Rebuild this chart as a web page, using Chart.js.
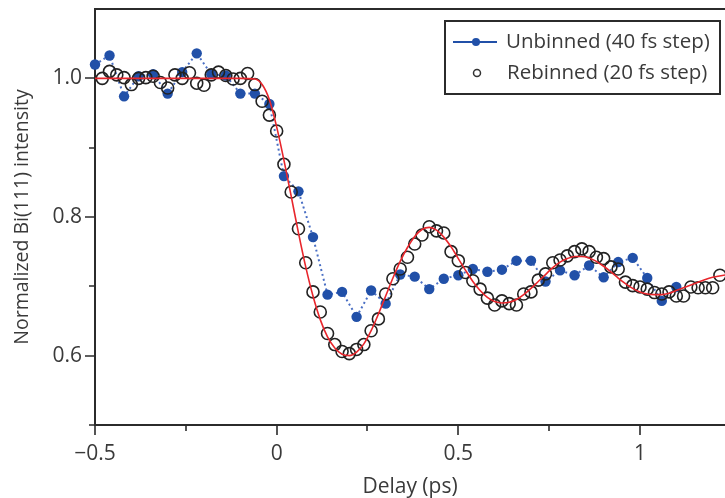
<!DOCTYPE html>
<html>
<head>
<meta charset="utf-8">
<script src="https://cdn.jsdelivr.net/npm/chart.js@4.4.1/dist/chart.umd.min.js"></script>
<style>
  html, body { margin: 0; padding: 0; background: #fff; }
</style>
</head>
<body>
<canvas id="myChart" width="725" height="498"></canvas>
<script>
// Unbinned data, 40 fs step
const unbinnedDelay = [-0.50, -0.46, -0.42, -0.38, -0.34, -0.30, -0.26, -0.22, -0.18, -0.14, -0.10, -0.06, -0.02,
  0.02, 0.06, 0.10, 0.14, 0.18, 0.22, 0.26, 0.30, 0.34, 0.38, 0.42, 0.46, 0.50, 0.54, 0.58, 0.62, 0.66,
  0.70, 0.74, 0.78, 0.82, 0.86, 0.90, 0.94, 0.98, 1.02, 1.06, 1.10]
const unbinnedIntensity = [1.020, 1.033, 0.974, 1.003, 1.006, 0.978, 1.009, 1.036, 1.006, 1.004, 0.978, 0.978, 0.963,
  0.859, 0.837, 0.771, 0.688, 0.692, 0.656, 0.694, 0.675, 0.717, 0.714, 0.696, 0.711, 0.716, 0.725, 0.721, 0.724, 0.737,
  0.737, 0.707, 0.723, 0.716, 0.730, 0.713, 0.735, 0.741, 0.712, 0.679, 0.699]

// Rebinned data, 20 fs step
const rebinnedDelay = [-0.48, -0.46, -0.44, -0.42, -0.40, -0.38, -0.36, -0.34, -0.32, -0.30, -0.28, -0.26, -0.24,
  -0.22, -0.20, -0.18, -0.16, -0.14, -0.12, -0.10, -0.08, -0.06, -0.04, -0.02, 0.00, 0.02, 0.04, 0.06, 0.08,
  0.10, 0.12, 0.14, 0.16, 0.18, 0.20, 0.22, 0.24, 0.26, 0.28, 0.30, 0.32, 0.34, 0.36, 0.38, 0.40, 0.42, 0.44,
  0.46, 0.48, 0.50, 0.52, 0.54, 0.56, 0.58, 0.60, 0.62, 0.64, 0.66, 0.68, 0.70, 0.72, 0.74, 0.76, 0.78, 0.80,
  0.82, 0.84, 0.86, 0.88, 0.90, 0.92, 0.94, 0.96, 0.98, 1.00, 1.02, 1.04, 1.06, 1.08, 1.10, 1.12, 1.14, 1.16,
  1.18, 1.20, 1.22]
const rebinnedIntensity = [1.000, 1.010, 1.005, 1.001, 0.991, 1.000, 1.001, 1.003, 0.994, 0.986, 1.005, 1.000, 1.008,
  0.993, 0.990, 1.005, 1.009, 1.004, 0.999, 1.000, 1.007, 0.991, 0.967, 0.947, 0.924, 0.876, 0.836, 0.783, 0.734,
  0.692, 0.663, 0.632, 0.616, 0.606, 0.603, 0.609, 0.616, 0.636, 0.653, 0.689, 0.711, 0.725, 0.742, 0.761, 0.774, 0.786, 0.780,
  0.777, 0.750, 0.737, 0.720, 0.708, 0.696, 0.683, 0.673, 0.679, 0.675, 0.673, 0.689, 0.692, 0.709, 0.718, 0.734, 0.738, 0.744,
  0.750, 0.754, 0.750, 0.742, 0.740, 0.728, 0.725, 0.706, 0.701, 0.699, 0.696, 0.691, 0.689, 0.692, 0.686, 0.686, 0.699, 0.698,
  0.698, 0.698, 0.716]

// Fit curve (red)
const fitDelay = [-0.50, -0.30, -0.10, -0.06, -0.04, -0.02, 0.00, 0.02, 0.04, 0.06, 0.08, 0.10, 0.12, 0.14, 0.16, 0.18,
  0.20, 0.22, 0.24, 0.26, 0.28, 0.30, 0.32, 0.34, 0.36, 0.38, 0.40, 0.42, 0.44, 0.46, 0.48, 0.50, 0.52, 0.54, 0.56,
  0.58, 0.60, 0.62, 0.64, 0.66, 0.68, 0.70, 0.72, 0.74, 0.76, 0.78, 0.80, 0.82, 0.84, 0.86, 0.88, 0.90, 0.92, 0.94,
  0.96, 0.98, 1.00, 1.02, 1.04, 1.06, 1.08, 1.10, 1.12, 1.14, 1.16, 1.18, 1.20, 1.24]
const fitIntensity = [1.000, 1.000, 1.000, 0.999, 0.991, 0.969, 0.930, 0.882, 0.830, 0.777, 0.728, 0.686, 0.652, 0.627, 0.611, 0.602,
  0.600, 0.605, 0.617, 0.636, 0.660, 0.686, 0.712, 0.736, 0.756, 0.772, 0.782, 0.785, 0.781, 0.771, 0.757, 0.740, 0.723, 0.707, 0.694,
  0.684, 0.678, 0.676, 0.677, 0.681, 0.688, 0.697, 0.707, 0.717, 0.727, 0.735, 0.740, 0.743, 0.743, 0.741, 0.736, 0.729, 0.721, 0.712,
  0.704, 0.697, 0.692, 0.689, 0.688, 0.688, 0.690, 0.694, 0.698, 0.702, 0.706, 0.710, 0.713, 0.717]

const xTicks = [-0.5, 0, 0.5, 1]
const xMinorTicks = [-0.25, 0.25, 0.75]
const yTicks = [0.6, 0.8, 1.0]
const yMinorTicks = [0.5, 0.7, 0.9]
const legendLabels = ['Unbinned (40 fs step)', 'Rebinned (20 fs step)']

const textColor = '#3a3a3a'
const axisColor = '#2b2b2b'
const blue = '#2150a8'
const red = '#e8262c'
const fontFamily = '"Open Sans", "DejaVu Sans", sans-serif'

const toPoints = (xs, ys) => xs.map((x, i) => ({ x: x, y: ys[i] }))

// axes box + tick marks
const framePlugin = {
  id: 'frame',
  beforeDatasetsDraw(chart) {
    const { ctx, chartArea: a, scales } = chart
    ctx.save()
    ctx.strokeStyle = axisColor
    ctx.lineWidth = 2
    ctx.beginPath()
    ctx.moveTo(a.right + 2, a.top)
    ctx.lineTo(a.left, a.top)
    ctx.lineTo(a.left, a.bottom)
    ctx.lineTo(a.right + 2, a.bottom)
    ctx.stroke()

    ctx.lineWidth = 1.6
    ctx.beginPath()
    xTicks.concat(xMinorTicks).forEach(v => {
      const px = Math.round(scales.x.getPixelForValue(v))
      const len = xTicks.includes(v) ? 10 : 6
      ctx.moveTo(px, a.bottom)
      ctx.lineTo(px, a.bottom + len)
    })
    yTicks.concat(yMinorTicks).forEach(v => {
      const py = Math.round(scales.y.getPixelForValue(v))
      const len = yTicks.includes(v) ? 10 : 6
      ctx.moveTo(a.left, py)
      ctx.lineTo(a.left - len, py)
    })
    ctx.stroke()
    ctx.restore()
  }
}

// boxed legend in the upper right
const legendPlugin = {
  id: 'boxLegend',
  afterDraw(chart) {
    const { ctx } = chart
    ctx.save()
    ctx.fillStyle = '#fff'
    ctx.fillRect(445, 21, 275, 73)
    ctx.strokeStyle = axisColor
    ctx.lineWidth = 2
    ctx.strokeRect(445, 21, 275, 73)

    // unbinned: line + dot
    ctx.strokeStyle = blue
    ctx.lineWidth = 2
    ctx.beginPath()
    ctx.moveTo(453, 42)
    ctx.lineTo(497, 42)
    ctx.stroke()
    ctx.fillStyle = blue
    ctx.beginPath()
    ctx.arc(476, 42, 4, 0, Math.PI * 2)
    ctx.fill()

    // rebinned: open circle
    ctx.strokeStyle = '#333'
    ctx.lineWidth = 1.5
    ctx.beginPath()
    ctx.arc(477, 73, 3.5, 0, Math.PI * 2)
    ctx.stroke()

    ctx.fillStyle = textColor
    ctx.font = '20.5px ' + fontFamily
    ctx.textBaseline = 'middle'
    ctx.fillText(legendLabels[0], 506, 42)
    ctx.fillText(legendLabels[1], 507, 73)
    ctx.restore()
  }
}

const ctx = document.getElementById('myChart').getContext('2d')
const myChart = new Chart(ctx, {
  type: 'scatter',
  data: {
    datasets: [
      {
        label: 'Fit',
        data: toPoints(fitDelay, fitIntensity),
        showLine: true,
        borderColor: red,
        borderWidth: 1.6,
        pointRadius: 0,
        cubicInterpolationMode: 'monotone',
        clip: false,
        order: 0
      },
      {
        label: legendLabels[1],
        data: toPoints(rebinnedDelay, rebinnedIntensity),
        showLine: false,
        pointRadius: 6,
        pointBorderWidth: 1.6,
        pointBorderColor: '#222',
        pointBackgroundColor: 'rgba(255,255,255,0)',
        clip: false,
        order: 1
      },
      {
        label: legendLabels[0],
        data: toPoints(unbinnedDelay, unbinnedIntensity),
        showLine: true,
        borderColor: '#4a6fc4',
        borderWidth: 2,
        borderDash: [2, 3],
        pointRadius: 5.2,
        pointBorderWidth: 0,
        pointBackgroundColor: blue,
        clip: false,
        order: 2
      }
    ]
  },
  options: {
    responsive: false,
    animation: false,
    layout: { autoPadding: false, padding: { top: 9, right: 0, left: 0, bottom: 0 } },
    plugins: {
      legend: { display: false },
      tooltip: { enabled: false }
    },
    scales: {
      x: {
        type: 'linear',
        min: -0.5,
        max: 1.234,
        afterBuildTicks: s => { s.ticks = xTicks.map(v => ({ value: v })) },
        afterFit: s => { s.height = 73; s.paddingLeft = 0; s.paddingRight = 0 },
        grid: { display: false, drawTicks: false },
        border: { display: false },
        ticks: {
          autoSkip: false,
          maxRotation: 0,
          padding: 16,
          color: textColor,
          font: { family: fontFamily, size: 21 },
          callback: v => v === 0 ? '0' : (v < 0 ? '\u2212' + Math.abs(v) : String(v))
        },
        title: {
          display: true,
          text: 'Delay (ps)',
          color: textColor,
          font: { family: fontFamily, size: 21 },
          padding: { top: 0, bottom: -2 }
        }
      },
      y: {
        min: 0.5,
        max: 1.1,
        afterBuildTicks: s => { s.ticks = yTicks.map(v => ({ value: v })) },
        afterFit: s => { s.width = 95; s.paddingTop = 0; s.paddingBottom = 0 },
        grid: { display: false, drawTicks: false },
        border: { display: false },
        ticks: {
          autoSkip: false,
          padding: 13,
          color: textColor,
          font: { family: fontFamily, size: 21 },
          callback: v => v.toFixed(1)
        },
        title: {
          display: true,
          text: 'Normalized Bi(111) intensity',
          color: textColor,
          font: { family: fontFamily, size: 19.5 },
          padding: { top: 11, bottom: 0 }
        }
      }
    }
  },
  plugins: [framePlugin, legendPlugin]
})
</script>
</body>
</html>
